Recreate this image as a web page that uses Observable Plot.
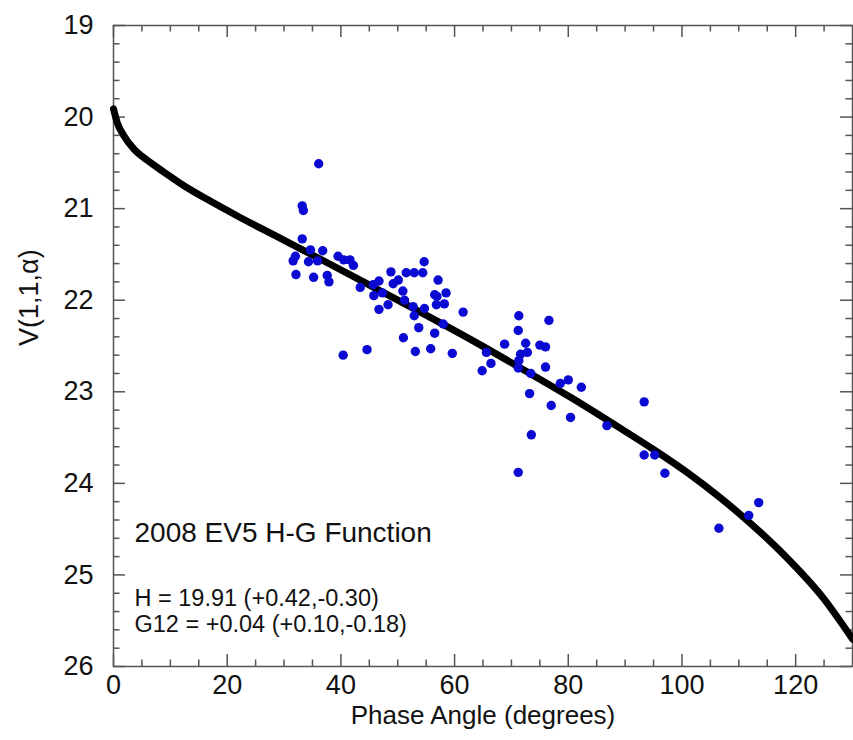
<!DOCTYPE html>
<html>
<head>
<meta charset="utf-8">
<script src="https://cdn.jsdelivr.net/npm/d3@7"></script>
<script src="https://cdn.jsdelivr.net/npm/@observablehq/plot@0.6"></script>
<style>
  html, body { margin: 0; padding: 0; background: #fff; }
  #chart svg { display: block; }
</style>
</head>
<body>
<div id="chart"></div>
<script>
// Observed phase angle (deg) and reduced magnitude V(1,1,alpha)
const obsAngle = [
  36.1, 33.2, 33.4, 33.2, 34.65, 36.8, 32.0, 31.6, 34.3, 35.9, 32.1, 35.2,
  39.5, 40.5, 41.6, 42.2, 37.6, 37.9, 40.4, 44.6, 43.4, 45.7, 46.7, 45.8,
  47.3, 46.7, 48.3, 48.8, 49.2, 50.1, 50.9, 51.2, 51.5, 52.9, 54.4, 54.65,
  52.7, 52.9, 54.7, 53.7, 51.0, 53.1, 55.8, 57.1, 56.5, 56.9, 58.5, 56.8,
  58.2, 58.0, 56.5, 61.5, 59.6, 64.85,
  71.3, 76.6, 71.2, 68.8, 72.5, 75.0, 76.0, 65.6, 66.4, 71.6, 72.8, 71.3,
  71.2, 73.4, 76.0, 73.2, 77.0, 78.6, 80.0, 82.3, 80.4, 73.5, 71.2, 86.8,
  93.35, 93.35, 95.2, 97.0,
  106.5, 111.75, 113.5
];
const obsMag = [
  20.51, 20.97, 21.02, 21.33, 21.45, 21.46, 21.52, 21.57, 21.58, 21.57, 21.72, 21.75,
  21.52, 21.56, 21.56, 21.62, 21.73, 21.80, 22.60, 22.54, 21.86, 21.83, 21.79, 21.95,
  21.92, 22.10, 22.05, 21.69, 21.82, 21.78, 21.90, 22.00, 21.70, 21.70, 21.70, 21.58,
  22.07, 22.17, 22.09, 22.30, 22.41, 22.56, 22.53, 21.78, 21.94, 21.96, 21.92, 22.05,
  22.04, 22.26, 22.36, 22.13, 22.58, 22.77,
  22.17, 22.22, 22.33, 22.48, 22.47, 22.49, 22.51, 22.57, 22.69, 22.59, 22.57, 22.66,
  22.74, 22.80, 22.73, 23.02, 23.15, 22.91, 22.87, 22.95, 23.28, 23.47, 23.88, 23.37,
  23.11, 23.69, 23.69, 23.89,
  24.49, 24.35, 24.21
];

// H-G12 fitted curve
const fitAngle = [0, 0.65, 1.8, 3.6, 5.9, 8.85, 12.4, 17.1, 21.8, 26.4, 30.8, 38.2, 47.0, 55.8, 64.6, 71.6, 80.4, 89.2, 95.0, 100.9, 106.8, 111.75, 118.1, 124.7, 130];
const fitMag   = [19.91, 20.06, 20.20, 20.35, 20.47, 20.60, 20.75, 20.92, 21.08, 21.23, 21.37, 21.61, 21.90, 22.19, 22.49, 22.74, 23.06, 23.40, 23.63, 23.88, 24.16, 24.42, 24.79, 25.24, 25.70];

// Axis ticks and labels
const xMajorTicks = [0, 20, 40, 60, 80, 100, 120];
const xMinorTicks = [5, 10, 15, 25, 30, 35, 45, 50, 55, 65, 70, 75, 85, 90, 95, 105, 110, 115, 125];
const yMajorTicks = [19, 20, 21, 22, 23, 24, 25, 26];
const yMinorTicks = [19.2, 19.4, 19.6, 19.8, 20.2, 20.4, 20.6, 20.8, 21.2, 21.4, 21.6, 21.8,
  22.2, 22.4, 22.6, 22.8, 23.2, 23.4, 23.6, 23.8, 24.2, 24.4, 24.6, 24.8, 25.2, 25.4, 25.6, 25.8];

const xTitle = "Phase Angle (degrees)";
const yTitle = "V(1,1,\u03b1)";
const noteTitle = "2008 EV5 H-G Function";
const noteLines = ["H = 19.91 (+0.42,-0.30)", "G12 = +0.04 (+0.10,-0.18)"];

const obs = obsAngle.map((a, i) => ({angle: a, mag: obsMag[i]}));
const fit = fitAngle.map((a, i) => ({angle: a, mag: fitMag[i]}));

const W = 853, H = 740, ML = 113, MR = 1, MT = 25, MB = 74;
const FW = W - ML - MR, FH = H - MT - MB;
const tickColor = "#555";
const tickWidth = 1.5;
const FONT = "'Liberation Sans', Arial, Helvetica, sans-serif";

// inward ticks on all four sides
function ticksX(ticks, len) {
  return [
    Plot.tickX(ticks, {x: d => d, insetTop: FH - len, stroke: tickColor, strokeWidth: tickWidth}),
    Plot.tickX(ticks, {x: d => d, insetBottom: FH - len, stroke: tickColor, strokeWidth: tickWidth})
  ];
}
function ticksY(ticks, len) {
  return [
    Plot.tickY(ticks, {y: d => d, insetRight: FW - len, stroke: tickColor, strokeWidth: tickWidth}),
    Plot.tickY(ticks, {y: d => d, insetLeft: FW - len, stroke: tickColor, strokeWidth: tickWidth})
  ];
}

const chart = Plot.plot({
  width: W,
  height: H,
  marginLeft: ML,
  marginRight: MR,
  marginTop: MT,
  marginBottom: MB,
  style: {fontFamily: FONT, background: "#fff", color: "#111", overflow: "visible"},
  x: {domain: [0, 130]},
  y: {domain: [19, 26], reverse: true},
  marks: [
    Plot.frame({stroke: "#555", strokeWidth: 1.5}),
    Plot.axisX(xMajorTicks, {anchor: "bottom", tickSize: 0, tickPadding: 8, fontSize: 27, label: null, fill: "#111", tickFormat: d => String(d)}),
    Plot.axisY(yMajorTicks, {anchor: "left", tickSize: 0, tickPadding: 20, fontSize: 27, label: null, fill: "#111", tickFormat: d => String(d)}),
    ...ticksX(xMinorTicks, 6.5),
    ...ticksX(xMajorTicks, 12),
    ...ticksY(yMinorTicks, 6.5),
    ...ticksY(yMajorTicks, 12),
    Plot.line(fit, {x: "angle", y: "mag", stroke: "#000", strokeWidth: 7, curve: "monotone-x", strokeLinecap: "round"}),
    Plot.dot(obs, {x: "angle", y: "mag", r: 4.7, fill: "#0a0ad2", stroke: "none"}),
    Plot.text([xTitle], {frameAnchor: "bottom", dy: 57, fontSize: 26, fill: "#111"}),
    Plot.text([yTitle], {frameAnchor: "left", dx: -84, rotate: -90, fontSize: 27, fill: "#111"}),
    Plot.text([noteTitle], {frameAnchor: "bottom-left", dx: 21, dy: -125, textAnchor: "start", fontSize: 28, fill: "#111"}),
    Plot.text([noteLines[0]], {frameAnchor: "bottom-left", dx: 21, dy: -61, textAnchor: "start", fontSize: 23.5, fill: "#111"}),
    Plot.text([noteLines[1]], {frameAnchor: "bottom-left", dx: 21, dy: -35, textAnchor: "start", fontSize: 23.5, fill: "#111"})
  ]
});

document.getElementById("chart").appendChild(chart);
</script>
</body>
</html>
